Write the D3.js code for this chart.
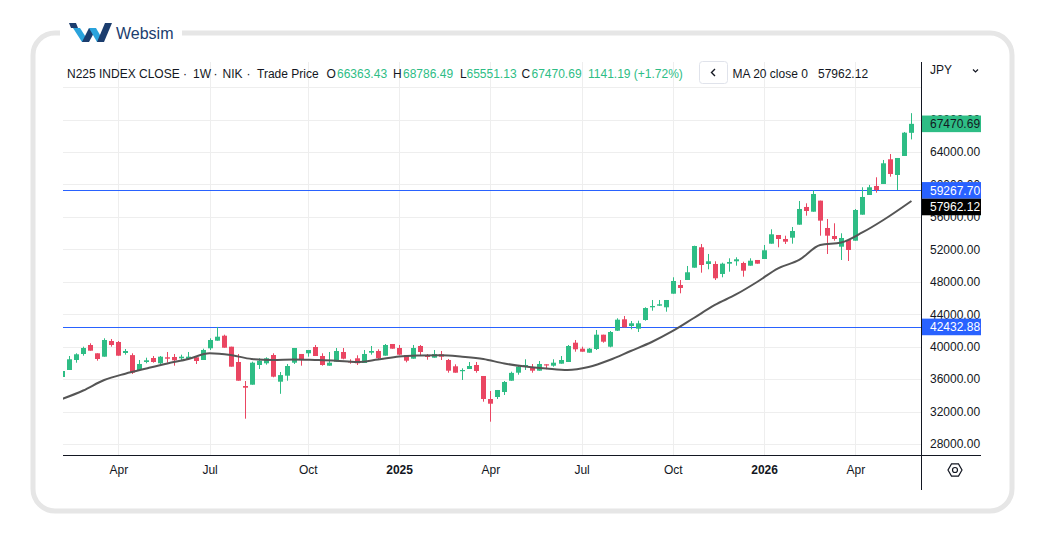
<!DOCTYPE html>
<html>
<head>
<meta charset="utf-8">
<script src="https://cdn.jsdelivr.net/npm/d3@7"></script>
<style>
  body { margin: 0; background: #fff; }
  svg { display: block; font-family: "Liberation Sans", Arial, sans-serif; }
</style>
</head>
<body>
<div id="chart"></div>
<script>
// weekly bars, Monday dates
const firstWeek = new Date(2024, 1, 5);
const lastWeek = new Date(2026, 5, 1);

const opens = [
  36261, 37124, 38357, 39097, 40206, 39183, 38765, 40699, 40575, 39220,
  38959, 37124, 38110, 38603, 37950, 38690, 38727, 38566, 38480, 38690,
  38357, 39799, 40736, 41352, 39997, 38110, 35150, 35311, 37741, 37950,
  38973, 35681, 36422, 38024, 39097, 39183, 39959, 38850, 37654, 38147,
  39343, 38197, 38567, 37987, 39256, 39467, 38888, 40330, 39836, 38973,
  38517, 40083, 38973, 38640, 39060, 38357, 37580, 37000, 37247, 37741,
  36385, 33549, 33795, 34412, 35804, 36791, 37618, 37457, 37038, 37826,
  37654, 37901, 38110, 40489, 39750, 39256, 39713, 41476, 39997, 41969,
  43374, 42549, 42215, 43288, 44854, 45052, 44854, 46530, 47604, 48220,
  49736, 52251, 50193, 50193, 48962, 50230, 50526, 50315, 49983, 50686,
  50809, 52696, 53768, 53274, 53435, 55038, 57221, 56640, 58002, 54631,
  53643, 52325, 53151, 53065, 56270, 58699, 59810, 60056, 63101, 61165,
  63508, 66363.43
];
const highs = [
  37247, 38850, 39183, 40000, 40416, 39183, 41032, 40946, 40699, 39713,
  39183, 38357, 38640, 38850, 38850, 39343, 39097, 39011, 39343, 38850,
  39750, 41032, 42433, 41476, 39997, 39097, 35767, 38147, 38567, 38690,
  39183, 36876, 37864, 39836, 39097, 39590, 40206, 39183, 39343, 39836,
  39836, 38443, 38936, 39590, 40083, 39676, 40330, 40330, 40206, 38973,
  40206, 40206, 39097, 39590, 39467, 38480, 37826, 37334, 38110, 38110,
  36385, 34535, 34658, 35768, 36915, 37618, 38443, 37864, 38234, 37826,
  38443, 38850, 40206, 40822, 39997, 39836, 42055, 41476, 41932, 43499,
  43783, 43165, 43202, 44854, 45754, 45754, 45754, 48552, 48220, 49947,
  52449, 52658, 51426, 50526, 50353, 50895, 51019, 50476, 50895, 50686,
  52535, 54470, 53768, 53681, 54754, 57959, 57676, 59268, 58002, 55740,
  55210, 53977, 53151, 56973, 59650, 59937, 60882, 63015, 63750, 63261,
  66467, 68786.49
];
const lows = [
  36014, 37124, 38024, 38888, 39504, 38270, 38765, 40000, 38888, 39011,
  36630, 37038, 37950, 38024, 37864, 38024, 37654, 38357, 38480, 37864,
  38357, 39590, 40736, 39872, 37532, 35804, 31119, 35311, 37248, 37777,
  36224, 34188, 35804, 37864, 37654, 38765, 38850, 37654, 37654, 38147,
  38443, 37900, 37741, 37987, 39011, 38480, 38888, 39750, 38937, 38073,
  38517, 38937, 38394, 38640, 38357, 36791, 36791, 35891, 37247, 36791,
  33215, 30750, 33549, 34042, 35804, 36544, 37124, 36791, 37038, 37210,
  37531, 37901, 38110, 39378, 39378, 39256, 39590, 40488, 39923, 41932,
  42388, 42142, 41808, 43202, 44434, 45014, 44311, 46530, 46579, 48220,
  49736, 49119, 49538, 48220, 48552, 49244, 49983, 48627, 49983, 50230,
  50809, 52696, 52251, 52658, 52696, 55038, 56148, 56640, 53681, 51425,
  53065, 50686, 50562, 53065, 56270, 58699, 58982, 60056, 60956, 59316,
  63508, 65551.13
];
const closes = [
  36999, 38443, 39060, 39836, 39504, 38480, 40822, 40206, 38888, 39467,
  36791, 37864, 38320, 38110, 38765, 38517, 38320, 38765, 38765, 38234,
  39590, 40822, 41229, 39872, 37532, 35804, 34941, 38024, 38271, 38567,
  36298, 36495, 37617, 39836, 38443, 39590, 38850, 37741, 38024, 39467,
  38517, 38110, 37950, 39097, 39467, 38567, 40206, 39750, 39011, 38270,
  39836, 39343, 38727, 39097, 38765, 37038, 36791, 37124, 37617, 37000,
  33549, 32969, 34658, 35645, 36767, 37532, 37741, 37038, 37864, 37703,
  38024, 38357, 40083, 39676, 39378, 39750, 41476, 40612, 41808, 43326,
  42388, 42881, 42881, 44762, 45014, 45224, 45754, 48096, 47234, 49170,
  52410, 50069, 50526, 48430, 50230, 50439, 50772, 49366, 50599, 50230,
  51882, 53854, 53274, 52941, 54261, 56973, 56727, 58823, 55536, 53681,
  53274, 53398, 51918, 56850, 58454, 59650, 59316, 62607, 61289, 63261,
  66380, 67470.69
];

// MA 20 line, read at every third bar
const maBars = [0, 3, 6, 9, 12, 15, 18, 21, 24, 27, 30, 33, 36, 39, 42, 45, 48, 51, 54, 57,
  60, 63, 66, 69, 72, 75, 78, 81, 84, 87, 90, 93, 96, 99, 102, 105, 108, 111, 114, 117, 121];
const maValues = [33548, 34596, 35891, 36667, 37308, 37925, 38480, 39182, 38973, 38480,
  38356, 38418, 38356, 38270, 38110, 38418, 38788, 38911, 38948, 38763,
  38480, 37925, 37555, 37308, 37123, 37493, 38356, 39466, 40576, 41932,
  43535, 45137, 46432, 47973, 49662, 50685, 52535, 52843, 54076, 55617, 57962.12];

const gridPrices = [28000, 32000, 36000, 40000, 44000, 48000, 52000, 56000, 60000, 64000, 68000, 72000];
const labelPrices = [28000, 32000, 36000, 40000, 44000, 48000, 52000, 56000, 60000, 64000, 68000];
const priceLines = [59267.70, 42432.88];
const tickMonths = [0, 3, 6, 9];

const header = {
  symbol: 'N225 INDEX CLOSE', interval: '1W', exchange: 'NIK', kind: 'Trade Price',
  change: '1141.19 (+1.72%)', ma: 'MA 20 close 0'
};

const green = '#2ebd85', red = '#ea4662', blue = '#2962ff', ink = '#131722';

const W = 1045, H = 543;
const pane = {left: 63, right: 921, top: 62, bottom: 455};

const svg = d3.select('#chart').append('svg')
  .attr('width', W).attr('height', H);

// card frame
svg.append('rect')
  .attr('x', 33).attr('y', 33).attr('width', 979).attr('height', 478).attr('rx', 22)
  .attr('fill', '#fff').attr('stroke', '#e6e6e6').attr('stroke-width', 5);

// logo
const logo = svg.append('g');
logo.append('rect').attr('x', 60).attr('y', 24).attr('width', 122).attr('height', 20).attr('fill', '#fff');
const logoShapes = [
  ['#1b3d6e', [[69, 23], [76, 23], [78, 28], [71, 28]]],
  ['#2aa3dc', [[73, 28], [80, 28], [89, 42], [82, 42]]],
  ['#1b3d6e', [[82, 42], [89, 42], [95, 31], [89, 28]]],
  ['#2aa3dc', [[89, 28], [96, 28], [104, 42], [97, 42]]],
  ['#1b3d6e', [[97, 42], [104, 42], [112, 23], [105, 23]]]
];
logo.selectAll('polygon').data(logoShapes).join('polygon')
  .attr('fill', d => d[0])
  .attr('points', d => d[1].map(p => p.join(',')).join(' '));
logo.append('text').attr('x', 116).attr('y', 39)
  .attr('font-size', 16).attr('font-weight', 500).attr('fill', '#1b3d6e')
  .text('Websim');

const dates = d3.timeMonday.range(firstWeek, d3.timeDay.offset(lastWeek, 1));
const bars = dates.map((d, i) => ({date: d, o: opens[i], h: highs[i], l: lows[i], c: closes[i]}));

const x = d3.scaleTime()
  .domain([new Date(2024, 3, 1), new Date(2026, 3, 6)])
  .range([118.3, 855.3]);

const y = d3.scaleLinear()
  .domain([28000, 72000])
  .range([444, 87.1]);

const tickDates = dates.filter((d, i) =>
  tickMonths.includes(d.getMonth()) && (i === 0 || dates[i - 1].getMonth() !== d.getMonth()));

svg.append('clipPath').attr('id', 'pane')
  .append('rect')
  .attr('x', pane.left).attr('y', pane.top)
  .attr('width', pane.right - pane.left).attr('height', pane.bottom - pane.top);

const plot = svg.append('g').attr('clip-path', 'url(#pane)');

// grid
plot.selectAll('.hgrid').data(gridPrices).join('line')
  .attr('class', 'hgrid')
  .attr('x1', pane.left).attr('x2', pane.right)
  .attr('y1', d => Math.round(y(d)) + 0.5).attr('y2', d => Math.round(y(d)) + 0.5)
  .attr('stroke', '#eeeeee');
plot.selectAll('.vgrid').data(tickDates).join('line')
  .attr('class', 'vgrid')
  .attr('x1', d => Math.round(x(d)) + 0.5).attr('x2', d => Math.round(x(d)) + 0.5)
  .attr('y1', pane.top).attr('y2', pane.bottom)
  .attr('stroke', '#eeeeee');

// horizontal price lines
plot.selectAll('.pline').data(priceLines).join('line')
  .attr('class', 'pline')
  .attr('x1', pane.left).attr('x2', pane.right)
  .attr('y1', d => Math.round(y(d)) + 0.5).attr('y2', d => Math.round(y(d)) + 0.5)
  .attr('stroke', blue).attr('stroke-width', 1);

// candles
const candle = plot.selectAll('.candle').data(bars).join('g')
  .attr('class', 'candle')
  .attr('fill', d => d.c >= d.o ? green : red)
  .attr('stroke', d => d.c >= d.o ? green : red);
candle.append('line')
  .attr('x1', d => Math.round(x(d.date)) + 0.5).attr('x2', d => Math.round(x(d.date)) + 0.5)
  .attr('y1', d => y(d.h)).attr('y2', d => y(d.l))
  .attr('stroke-width', 1);
candle.append('rect')
  .attr('stroke', 'none')
  .attr('x', d => Math.round(x(d.date)) - 2)
  .attr('width', 5)
  .attr('y', d => y(Math.max(d.o, d.c)))
  .attr('height', d => Math.max(1.2, Math.abs(y(d.o) - y(d.c))));

// moving average
const maLine = d3.line()
  .x((d, i) => x(dates[maBars[i]]))
  .y(d => y(d))
  .curve(d3.curveMonotoneX);
plot.append('path')
  .datum(maValues)
  .attr('d', maLine)
  .attr('fill', 'none')
  .attr('stroke', '#555')
  .attr('stroke-width', 2);

// axes
const xAxis = svg.append('g')
  .attr('transform', `translate(0,${pane.bottom})`)
  .call(d3.axisBottom(x).tickValues(tickDates).tickSize(0).tickPadding(10)
    .tickFormat(d => d.getMonth() === 0 ? d.getFullYear() : d3.timeFormat('%b')(d)));
xAxis.select('.domain').remove();
xAxis.selectAll('text')
  .attr('font-family', '"Liberation Sans", Arial, sans-serif')
  .attr('font-size', 12).attr('fill', ink)
  .attr('font-weight', d => d.getMonth() === 0 ? 'bold' : 'normal');

const yAxis = svg.append('g')
  .attr('transform', `translate(${pane.right},0)`)
  .call(d3.axisRight(y).tickValues(labelPrices).tickSize(0).tickPadding(9)
    .tickFormat(d3.format('.2f')));
yAxis.select('.domain').remove();
yAxis.selectAll('text')
  .attr('font-family', '"Liberation Sans", Arial, sans-serif')
  .attr('font-size', 12).attr('fill', ink);

svg.append('line')
  .attr('x1', pane.left).attr('x2', 981)
  .attr('y1', pane.bottom + 0.5).attr('y2', pane.bottom + 0.5)
  .attr('stroke', ink);
svg.append('line')
  .attr('x1', pane.right + 0.5).attr('x2', pane.right + 0.5)
  .attr('y1', pane.top).attr('y2', 490)
  .attr('stroke', ink);

// price badges (drawn over the axis labels, as in the source)
const last = bars[bars.length - 1];
const maLast = maValues[maValues.length - 1];
const badges = [
  {v: last.c, fill: green, color: ink, y: y(last.c)},
  {v: priceLines[0], fill: blue, color: '#fff', y: y(priceLines[0])},
  {v: maLast, fill: '#000', color: '#fff', y: Math.max(y(maLast), y(priceLines[0]) + 16.6)},
  {v: priceLines[1], fill: blue, color: '#fff', y: y(priceLines[1])}
];
const badge = svg.selectAll('.badge').data(badges).join('g').attr('class', 'badge');
badge.append('rect')
  .attr('x', pane.right + 1).attr('width', 59)
  .attr('y', d => d.y - 8.3).attr('height', 16.6)
  .attr('fill', d => d.fill);
badge.append('text')
  .attr('x', 930).attr('y', d => d.y).attr('dy', '0.35em')
  .attr('font-size', 12).attr('fill', d => d.color)
  .text(d => d3.format('.2f')(d.v));

// legend line
const legend = svg.append('g').attr('font-size', 12);
const parts = [
  [67, header.symbol, ink, 'start'], [185, '·', ink, 'middle'], [193, header.interval, ink, 'start'],
  [215.5, '·', ink, 'middle'], [222.5, header.exchange, ink, 'start'], [248.5, '·', ink, 'middle'],
  [257, header.kind, ink, 'start'],
  [326.5, 'O', ink, 'start'], [337, d3.format('.2f')(last.o), green, 'start'],
  [393, 'H', ink, 'start'], [403, d3.format('.2f')(last.h), green, 'start'],
  [460, 'L', ink, 'start'], [466.5, d3.format('.2f')(last.l), green, 'start'],
  [521.5, 'C', ink, 'start'], [531.5, d3.format('.2f')(last.c), green, 'start'],
  [588, header.change, green, 'start'],
  [732.5, header.ma, ink, 'start'], [818, d3.format('.2f')(maLast), ink, 'start']
];
legend.selectAll('text').data(parts).join('text')
  .attr('x', d => d[0]).attr('y', 78)
  .attr('text-anchor', d => d[3])
  .attr('fill', d => d[2]).text(d => d[1]);

svg.append('rect')
  .attr('x', 699.5).attr('y', 61.5).attr('width', 28).attr('height', 22).attr('rx', 3)
  .attr('fill', '#fff').attr('stroke', '#e0e3eb');
svg.append('path')
  .attr('d', 'M715,69 L711.5,72.5 L715,76')
  .attr('fill', 'none').attr('stroke', ink).attr('stroke-width', 1.4);

// currency + settings
svg.append('text').attr('x', 930).attr('y', 74).attr('font-size', 12).attr('fill', ink).text('JPY');
svg.append('path')
  .attr('d', 'M973,69.5 L975.5,72 L978,69.5')
  .attr('fill', 'none').attr('stroke', ink).attr('stroke-width', 1.2);

const hex = d3.range(6).map(k => {
  const a = Math.PI / 3 * k;
  return [955 + 7 * Math.cos(a), 470 + 7 * Math.sin(a)];
});
svg.append('polygon')
  .attr('points', hex.map(p => p.join(',')).join(' '))
  .attr('fill', 'none').attr('stroke', ink).attr('stroke-width', 1.2);
svg.append('circle').attr('cx', 955).attr('cy', 470).attr('r', 2.5)
  .attr('fill', 'none').attr('stroke', ink).attr('stroke-width', 1.2);
</script>
</body>
</html>
